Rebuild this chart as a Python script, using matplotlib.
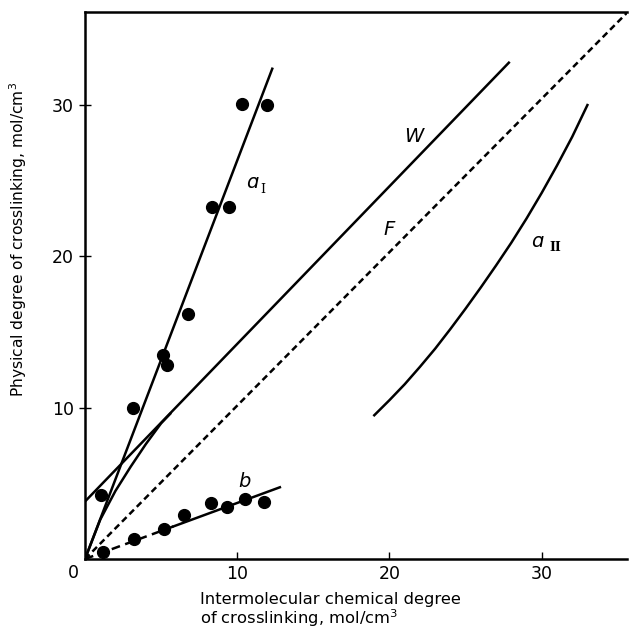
import matplotlib
matplotlib.use("Agg")
import matplotlib.pyplot as plt

# ---- data ----
aI_x = [1.03, 3.17, 5.14, 5.36, 6.79, 8.32, 9.48, 10.29, 11.93]
aI_y = [4.23, 10.0, 13.48, 12.82, 16.17, 23.28, 23.24, 30.07, 30.0]
aI_line_x = [0, 12.3]
aI_line_y = [0, 32.4]

b_x = [1.2, 3.24, 5.19, 6.52, 8.27, 9.35, 10.5, 11.77]
b_y = [0.48, 1.30, 1.96, 2.91, 3.72, 3.46, 3.95, 3.79]
b_dash_x = [0, 5.8]
b_dash_y = [0, 2.15]
b_solid_x = [5.8, 12.8]
b_solid_y = [2.15, 4.74]

W_x = [0, 27.84]
W_y = [3.8, 32.8]
W_curve_x = [0, 1.0, 2.0, 3.0, 4.0, 5.0, 5.6]
W_curve_y = [0, 2.6, 4.5, 6.1, 7.6, 8.97, 9.6]

F_x = [0, 35.6]
F_y = [0, 36.1]

aII_x = [19, 20, 21, 22, 23, 24, 25, 26, 27, 28, 29, 30, 31, 32, 33]
aII_y = [9.5, 10.5, 11.55, 12.7, 13.9, 15.2, 16.55, 17.95, 19.4, 20.9, 22.5, 24.2, 26.0, 27.9, 30.0]

x_ticks = [10, 20, 30]
y_ticks = [10, 20, 30]

W_, H_ = 629, 632
fig = plt.figure(figsize=(W_ / 100, H_ / 100), dpi=100)
ax = fig.add_axes([85 / W_, 1 - 559 / H_, (627 - 85) / W_, (559 - 12) / H_])

lw = 1.8
ax.plot(aI_line_x, aI_line_y, color="black", lw=lw)
ax.plot(W_x, W_y, color="black", lw=lw)
ax.plot(W_curve_x, W_curve_y, color="black", lw=lw)
ax.plot(F_x, F_y, color="black", lw=lw, dashes=(2.6, 1.6))
ax.plot(aII_x, aII_y, color="black", lw=lw)
ax.plot(b_dash_x, b_dash_y, color="black", lw=lw, dashes=(3.5, 2.2))
ax.plot(b_solid_x, b_solid_y, color="black", lw=lw)
ax.plot(aI_x, aI_y, "o", color="black", ms=8.5, clip_on=False)
ax.plot(b_x, b_y, "o", color="black", ms=8.5, clip_on=False)

ax.set_xlim(0, 35.6)
ax.set_ylim(0, 36.15)
ax.set_xticks(x_ticks)
ax.set_yticks(y_ticks)
ax.set_xticklabels([str(t) for t in x_ticks])
ax.set_yticklabels([str(t) for t in y_ticks])
ax.tick_params(axis="x", direction="in", length=5, width=1, labelsize=12.5, pad=4)
ax.tick_params(axis="y", direction="inout", length=8, width=1, labelsize=12.5, pad=4)
for s in ["left", "bottom", "top"]:
    ax.spines[s].set_linewidth(1.8)
ax.spines["right"].set_visible(False)

fs = 12.5
# labels
ax.text(11.0, 24.85, "ɑ", style="italic", fontsize=14, ha="center", va="center")
ax.text(11.65, 24.4, "I", family="DejaVu Serif", fontsize=9, ha="center", va="center")
ax.text(29.7, 21.0, "ɑ", style="italic", fontsize=14, ha="center", va="center")
ax.text(30.9, 20.6, "II", family="DejaVu Serif", fontsize=9, fontweight="bold", ha="center", va="center")
ax.text(21.6, 27.9, "W", style="italic", fontsize=14, ha="center", va="center")
ax.text(19.96, 21.75, "F", style="italic", fontsize=14, ha="center", va="center")
ax.text(10.5, 5.1, "b", style="italic", fontsize=14, ha="center", va="center")

fig.text(73 / W_, 1 - 573 / H_, "0", fontsize=fs, ha="center", va="center")
fig.text(200 / W_, 3 / H_,
         "Intermolecular chemical degree\nof crosslinking, mol/cm$^3$",
         fontsize=11.8, ha="left", va="bottom", multialignment="left", linespacing=1.0)
fig.text(18 / W_, 1 - 239 / H_, "Physical degree of crosslinking, mol/cm$^3$", fontsize=11.2,
         rotation=90, ha="center", va="center")

fig.savefig("out.png", dpi=100)
